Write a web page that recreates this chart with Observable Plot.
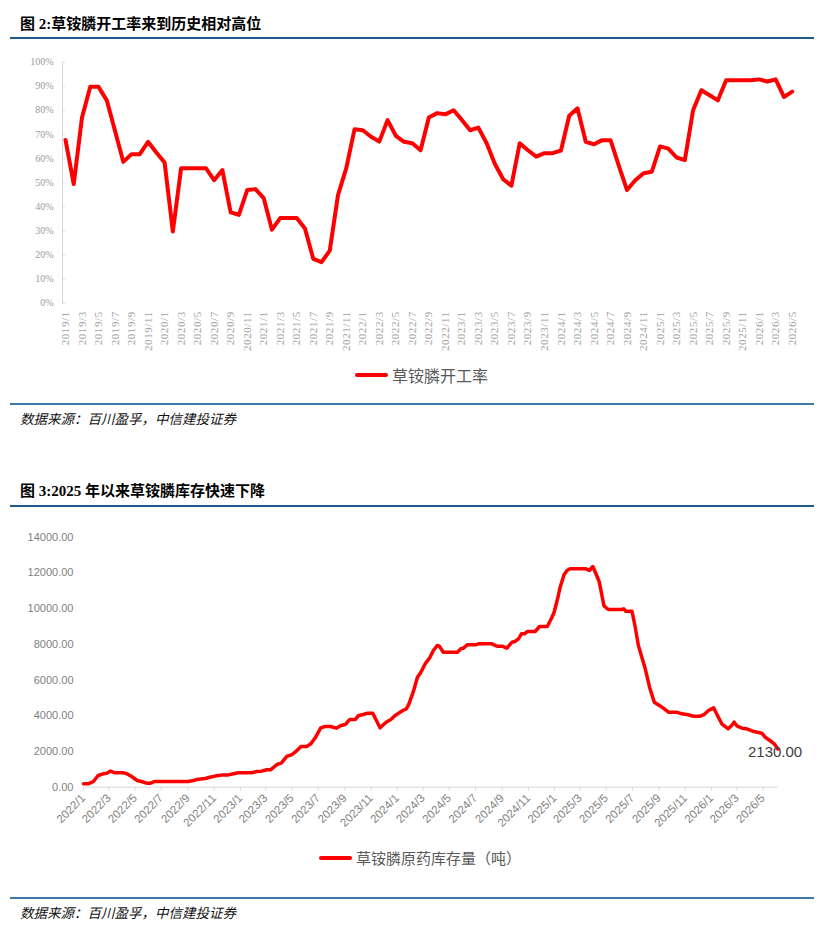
<!DOCTYPE html>
<html><head><meta charset="utf-8">
<script src="https://cdn.jsdelivr.net/npm/d3@7"></script>
<script src="https://cdn.jsdelivr.net/npm/@observablehq/plot@0.6"></script>
<style>
html,body{margin:0;padding:0;background:#fff;}
body{width:824px;height:933px;position:relative;overflow:hidden;font-family:"Noto Sans CJK SC",sans-serif;}
.title{position:absolute;left:20px;font-family:"Liberation Serif","Noto Sans CJK SC",serif;font-weight:bold;font-size:15px;color:#000;line-height:20px;white-space:nowrap;}
.rule{position:absolute;left:10px;width:804px;}
.src{position:absolute;left:20px;font-size:13.5px;font-style:italic;color:#111;line-height:18px;white-space:nowrap;}
.legend{position:absolute;display:flex;align-items:center;color:#595959;white-space:nowrap;line-height:20px;}
.legend .sw{width:33px;height:4px;background:#f00;border-radius:2px;margin-right:4px;}
.chart{position:absolute;left:0;}
#c1 g[aria-label="x-axis tick label"] text{letter-spacing:0.6px;}
</style>
</head><body>
<div class="title" style="top:14px">图 2:草铵膦开工率来到历史相对高位</div>
<div class="rule" style="top:36.5px;height:2.5px;background:#1f5a8c"></div>
<div class="chart" id="c1" style="top:40px"></div>
<div class="legend" style="left:355px;top:364.5px;font-size:16px"><span class="sw"></span>草铵膦开工率</div>
<div class="rule" style="top:403px;height:2px;background:#3f78aa"></div>
<div class="src" style="top:409px">数据来源：百川盈孚，中信建投证券</div>

<div class="title" style="top:481px">图 3:2025 年以来草铵膦库存快速下降</div>
<div class="rule" style="top:504.5px;height:2.5px;background:#1f5a8c"></div>
<div class="chart" id="c2" style="top:510px"></div>
<div class="legend" style="left:319px;top:847.5px;font-size:15px"><span class="sw"></span>草铵膦原药库存量（吨）</div>
<div class="rule" style="top:897px;height:2px;background:#3f78aa"></div>
<div class="src" style="top:903px">数据来源：百川盈孚，中信建投证券</div>

<script>
// ---------- Chart 1: operating rate (%) ----------
const rateMonths = [
"2019/1","2019/2","2019/3","2019/4","2019/5","2019/6","2019/7","2019/8","2019/9","2019/10","2019/11","2019/12",
"2020/1","2020/2","2020/3","2020/4","2020/5","2020/6","2020/7","2020/8","2020/9","2020/10","2020/11","2020/12",
"2021/1","2021/2","2021/3","2021/4","2021/5","2021/6","2021/7","2021/8","2021/9","2021/10","2021/11","2021/12",
"2022/1","2022/2","2022/3","2022/4","2022/5","2022/6","2022/7","2022/8","2022/9","2022/10","2022/11","2022/12",
"2023/1","2023/2","2023/3","2023/4","2023/5","2023/6","2023/7","2023/8","2023/9","2023/10","2023/11","2023/12",
"2024/1","2024/2","2024/3","2024/4","2024/5","2024/6","2024/7","2024/8","2024/9","2024/10","2024/11","2024/12",
"2025/1","2025/2","2025/3","2025/4","2025/5","2025/6","2025/7","2025/8","2025/9","2025/10","2025/11","2025/12",
"2026/1","2026/2","2026/3","2026/4","2026/5"];
const rateValues = [
67.7,49.4,77.0,89.7,89.7,84.1,71.4,58.6,61.8,61.8,66.9,62.5,
58.3,29.7,56.0,56.0,56.0,56.0,51.0,55.2,37.7,36.6,46.9,47.3,
43.6,30.5,35.3,35.3,35.3,31.0,18.4,17.0,21.8,44.8,56.0,72.1,
71.7,69.0,67.0,75.9,69.4,66.9,66.3,63.4,77.0,78.8,78.3,80.0,
76.0,71.7,72.8,66.3,57.7,51.4,48.7,66.3,63.4,60.8,62.2,62.2,
63.3,77.7,80.8,66.9,65.9,67.6,67.6,57.0,46.9,51.0,53.9,54.5,
65.0,64.1,60.4,59.3,80.0,88.3,86.2,84.1,92.4,92.4,92.4,92.4,
92.8,91.9,92.8,85.5,87.7];
const rateYTicks = [0,10,20,30,40,50,60,70,80,90,100];
const rateXTicks = rateMonths.filter((d, i) => i % 2 === 0);

// ---------- Chart 2: inventory (tonnes) ----------
const invDates = [
"2022-01-01","2022-01-12","2022-01-24","2022-02-04","2022-02-16","2022-02-24","2022-03-05","2022-03-15","2022-04-04","2022-04-12",
"2022-04-23","2022-05-06","2022-05-16","2022-05-28","2022-06-06","2022-06-16","2022-09-02","2022-09-14","2022-09-25","2022-10-11",
"2022-10-22","2022-11-07","2022-11-22","2022-12-04","2022-12-16","2022-12-27","2023-01-27","2023-02-08","2023-02-20","2023-03-03",
"2023-03-12","2023-03-27","2023-04-06","2023-04-19","2023-05-01","2023-05-11","2023-05-22","2023-06-04","2023-06-14","2023-06-25",
"2023-07-07","2023-07-17","2023-07-30","2023-08-12","2023-08-23","2023-09-02","2023-09-12","2023-09-25","2023-10-03","2023-10-14",
"2023-10-24","2023-11-05","2023-11-22","2023-12-06","2023-12-17","2023-12-27","2024-01-04","2024-01-14","2024-01-22","2024-01-28",
"2024-02-07","2024-02-17","2024-02-25","2024-03-06","2024-03-16","2024-03-25","2024-04-03","2024-04-08","2024-04-17","2024-05-20",
"2024-05-28","2024-06-03","2024-06-12","2024-07-01","2024-07-08","2024-08-08","2024-08-20","2024-09-01","2024-09-12","2024-09-24",
"2024-10-02","2024-10-09","2024-10-16","2024-10-23","2024-10-30","2024-11-17","2024-11-27","2024-12-15","2024-12-26","2024-12-31",
"2025-01-08","2025-01-14","2025-01-23","2025-01-30","2025-02-06","2025-03-15","2025-03-23","2025-03-31","2025-04-09","2025-04-15",
"2025-04-19","2025-04-26","2025-05-06","2025-06-06","2025-06-11","2025-06-16","2025-06-30","2025-07-07","2025-07-15","2025-07-23",
"2025-07-31","2025-08-10","2025-08-21","2025-09-02","2025-09-11","2025-09-23","2025-10-12","2025-10-24","2025-11-08","2025-11-20",
"2025-12-06","2025-12-15","2025-12-25","2026-01-06","2026-01-15","2026-01-25","2026-02-09","2026-02-17","2026-02-23","2026-03-02",
"2026-03-13","2026-03-24","2026-04-07","2026-04-18","2026-04-28","2026-05-06","2026-05-17","2026-05-27","2026-06-05"];
const invValues = [
200,190,320,655,750,785,900,805,805,750,
600,375,320,225,225,320,320,375,450,490,
560,640,690,690,750,805,805,880,900,975,
975,1270,1345,1720,1830,2015,2280,2280,2430,2800,
3325,3400,3400,3305,3455,3510,3790,3790,4015,4070,
4145,4145,3325,3640,3790,4015,4145,4295,4390,4650,
5320,6160,6440,6910,7225,7655,7935,7900,7560,7560,
7750,7785,7975,7975,8030,8030,7900,7900,7785,8120,
8175,8310,8590,8590,8720,8720,9000,9000,9520,9800,
10550,11200,11895,12135,12230,12230,12135,12360,11855,11500,
11000,10150,9950,9950,9990,9855,9855,9055,7935,7280,
6630,5600,4760,4575,4425,4200,4200,4110,4055,3975,
3975,4070,4295,4445,4015,3550,3270,3455,3640,3415,
3305,3270,3135,3080,3025,2800,2615,2430,2130];
const invYTicks = [0,2000,4000,6000,8000,10000,12000,14000];
const invXTickLabels = ["2022/1","2022/3","2022/5","2022/7","2022/9","2022/11","2023/1","2023/3","2023/5","2023/7","2023/9","2023/11",
"2024/1","2024/3","2024/5","2024/7","2024/9","2024/11","2025/1","2025/3","2025/5","2025/7","2025/9","2025/11","2026/1","2026/3","2026/5"];
const invXDomain = ["2022-01-01","2026-06-06"];

// ---------- build chart 1 ----------
const rateRows = rateMonths.map((m, i) => ({month: m, value: rateValues[i]}));
const c1 = Plot.plot({
  width: 824, height: 325,
  marginLeft: 62, marginRight: 29.3, marginTop: 21.5, marginBottom: 62.3,
  x: {type: "point", domain: rateMonths, padding: 0.363, round: false},
  y: {domain: [0, 100]},
  style: {fontFamily: "'Liberation Serif', serif", fontSize: "10px", color: "#9a9a9a", background: "transparent", overflow: "visible"},
  marks: [
    Plot.frame({anchor: "left", stroke: "#d9d9d9"}),
    Plot.axisY({ticks: rateYTicks, tickSize: -3, tickPadding: 12, tickFormat: d => d + "%", stroke: "#d9d9d9", fill: "#9a9a9a", fontSize: 10, label: null}),
    Plot.axisX({ticks: rateXTicks, tickRotate: -90, tickSize: 0, tickPadding: 8, fill: "#a0a0a0", fontSize: 11, label: null}),
    Plot.line(rateRows, {x: "month", y: "value", stroke: "#ff0000", strokeWidth: 4, strokeLinejoin: "round", strokeLinecap: "round"})
  ]
});
document.getElementById("c1").appendChild(c1);

// ---------- build chart 2 ----------
const parseDay = d3.utcParse("%Y-%m-%d");
const parseMonth = d3.utcParse("%Y/%m");
const invRows = invDates.map((d, i) => ({date: parseDay(d), value: invValues[i]}));
const c2 = Plot.plot({
  width: 824, height: 335,
  marginLeft: 83, marginRight: 46, marginTop: 26.7, marginBottom: 58.3,
  x: {type: "utc", domain: invXDomain.map(parseDay)},
  y: {domain: [0, 14000]},
  style: {fontFamily: "'Liberation Sans', sans-serif", fontSize: "11px", color: "#7f7f7f", background: "transparent", overflow: "visible"},
  marks: [
    Plot.axisY({ticks: invYTicks, tickSize: 0, tickPadding: 10, tickFormat: d3.format(".2f"), fill: "#7f7f7f", label: null}),
    Plot.axisX({ticks: invXTickLabels.map(parseMonth), tickFormat: d3.utcFormat("%Y/%-m"), tickRotate: -45, tickSize: 4, tickPadding: 5, stroke: "#d9d9d9", fill: "#7f7f7f", fontSize: 11.5, label: null}),
    Plot.ruleY([0], {stroke: "#d9d9d9"}),
    Plot.line(invRows, {x: "date", y: "value", stroke: "#ff0000", strokeWidth: 3.5, strokeLinejoin: "round", strokeLinecap: "round"}),
    Plot.text(invRows.slice(-1), {x: "date", y: "value", text: d => d3.format(".2f")(d.value), fill: "#404040", fontSize: 15, dx: -3, dy: 3})
  ]
});
document.getElementById("c2").appendChild(c2);
</script>
</body></html>
